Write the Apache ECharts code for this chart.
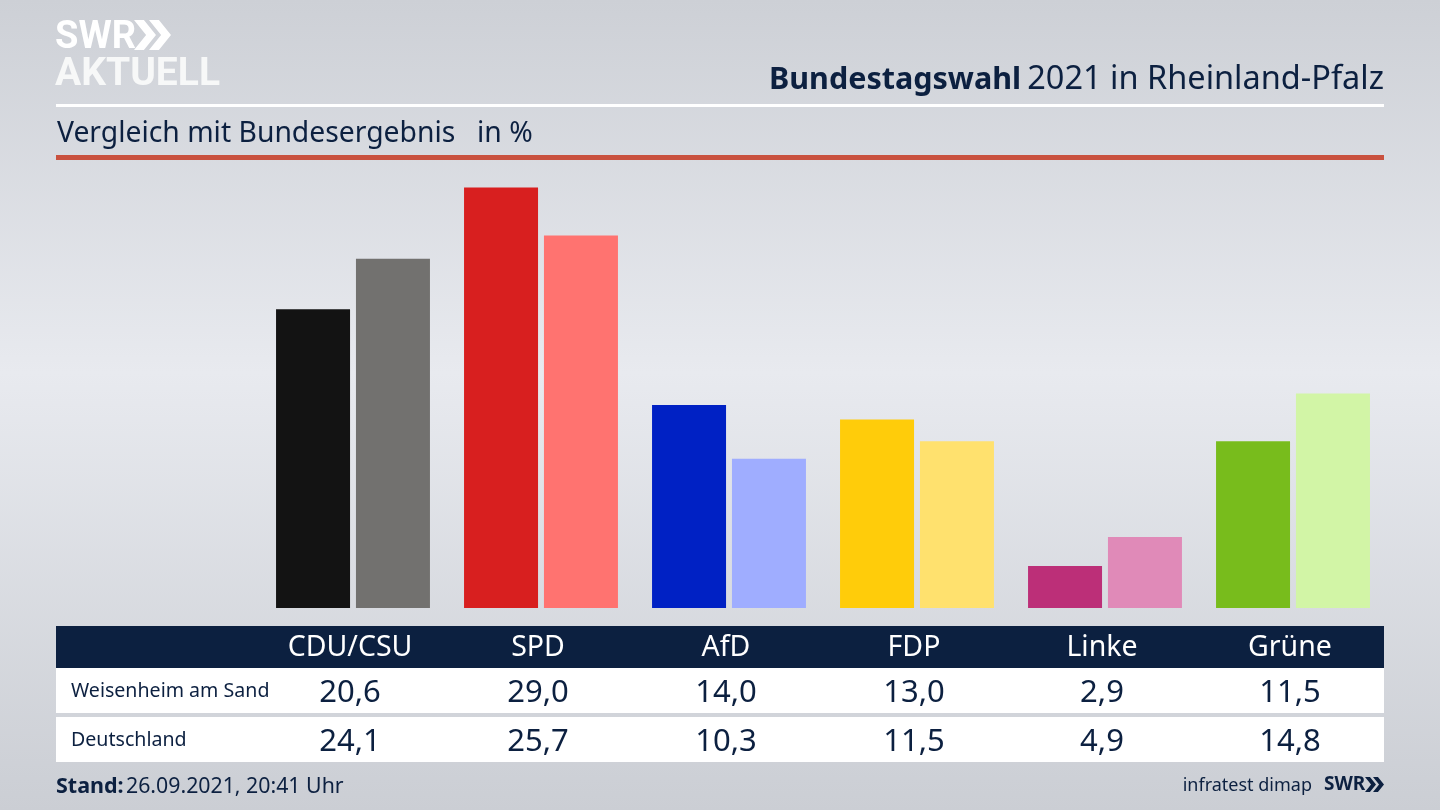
<!DOCTYPE html>
<html>
<head>
<meta charset="utf-8">
<script src="https://cdn.jsdelivr.net/npm/echarts@6/dist/echarts.min.js"></script>
<style>
html, body { margin: 0; padding: 0; }
#chart { width: 1440px; height: 810px; }
</style>
</head>
<body>
<div id="chart"></div>
<script>
const parties = ['CDU/CSU', 'SPD', 'AfD', 'FDP', 'Linke', 'Grüne'];
const localName = 'Weisenheim am Sand';
const nationalName = 'Deutschland';
const localValues = [20.6, 29.0, 14.0, 13.0, 2.9, 11.5];
const nationalValues = [24.1, 25.7, 10.3, 11.5, 4.9, 14.8];
const localColors = ['#131313', '#d81f1f', '#0021c4', '#ffcc0a', '#bc2f78', '#78bc1c'];
const nationalColors = ['#72716f', '#ff7370', '#9fadff', '#ffe16e', '#e08ab8', '#d2f5a6'];

const navy = '#0c2040';
const font = '"Noto Sans", sans-serif';
const fmt = v => v.toFixed(1).replace('.', ',');

const chart = echarts.init(document.getElementById('chart'));

function paint(values, colors) {
    return values.map((v, i) => ({ value: v, itemStyle: { color: colors[i] } }));
}

chart.setOption({
    animation: false,
    backgroundColor: new echarts.graphic.LinearGradient(0, 0, 0, 1, [
        { offset: 0, color: '#cdd0d6' },
        { offset: 0.46, color: '#e8eaef' },
        { offset: 1, color: '#cbced4' }
    ]),
    grid: { left: 259, width: 1128, top: 173.1, height: 434.9 },
    xAxis: {
        type: 'category',
        data: parties,
        axisLine: { show: false },
        axisTick: { show: false },
        axisLabel: { show: false }
    },
    yAxis: { type: 'value', min: 0, max: 30, show: false },
    series: [
        { name: localName, type: 'bar', barWidth: 74, barGap: '8%', data: paint(localValues, localColors) },
        { name: nationalName, type: 'bar', barWidth: 74, barGap: '8%', data: paint(nationalValues, nationalColors) }
    ]
});

function rect(x, y, width, height, fill) {
    return { type: 'rect', shape: { x, y, width, height }, style: { fill } };
}
function text(x, y, str, size, opts) {
    return {
        type: 'text', x, y,
        style: Object.assign({
            text: str, fontSize: size, fontFamily: font, fill: navy,
            textAlign: 'left', textVerticalAlign: 'middle'
        }, opts || {})
    };
}
function chevrons(x, y, h, w, gap, fill) {
    // the two arrows of the SWR logo
    return [0, 1].map(k => {
        let o = x + k * gap;
        return {
            type: 'polygon',
            shape: { points: [[o, y], [o + w * 0.45, y], [o + w, y + h / 2], [o + w * 0.45, y + h], [o, y + h], [o + w * 0.55, y + h / 2]] },
            style: { fill }
        };
    });
}

// table columns follow the x axis, sitting a little left of the bar group centre
const colX = parties.map(p => chart.convertToPixel({ xAxisIndex: 0 }, p) - 3);

let g = [
    text(55, 38, 'SWR', 38, { fill: '#fff', fontWeight: 'bold', fontFamily: 'Roboto, sans-serif' }),
    text(55, 75, 'AKTUELL', 39, { fill: '#f7f8f8', fontWeight: 'bold', fontFamily: 'Roboto, sans-serif' }),
    text(769, 80, 'Bundestagswahl', 30.5, { fontWeight: 'bold' }),
    text(1384, 80, '2021 in Rheinland-Pfalz', 32.5, { textAlign: 'right' }),
    rect(56, 104, 1328, 3, '#ffffff'),
    text(57, 134, 'Vergleich mit Bundesergebnis', 28.3),
    text(477, 134, 'in %', 28.3),
    rect(56, 155, 1328, 5, '#c9513f'),
    rect(56, 626, 1328, 42, navy),
    rect(56, 668, 1328, 45, '#ffffff'),
    rect(56, 717, 1328, 45, '#ffffff'),
    text(71, 691, localName, 19.6),
    text(71, 740, nationalName, 19.6),
    text(56, 787, 'Stand:', 21.5, { fontWeight: 'bold' }),
    text(126, 787, '26.09.2021, 20:41 Uhr', 21.3),
    text(1312, 786, 'infratest dimap', 18, { textAlign: 'right' }),
    text(1324, 785, 'SWR', 19, { fontWeight: 'bold' })
];
g = g.concat(chevrons(134, 20, 30, 22, 15, '#ffffff'), chevrons(1365, 777, 15, 11, 8, navy));

parties.forEach((p, i) => {
    g.push(text(colX[i], 648, p, 28.5, { fill: '#fff', textAlign: 'center' }));
    g.push(text(colX[i], 693, fmt(localValues[i]), 31, { textAlign: 'center' }));
    g.push(text(colX[i], 742, fmt(nationalValues[i]), 31, { textAlign: 'center' }));
});

chart.setOption({ graphic: g });
</script>
</body>
</html>
